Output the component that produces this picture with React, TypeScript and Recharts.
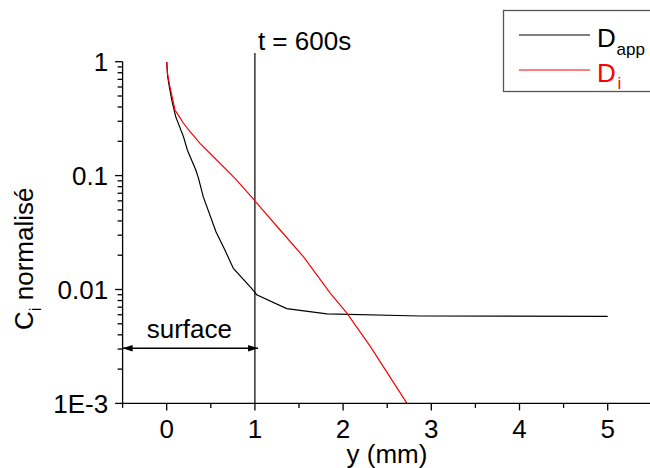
import React from "react";
import { LineChart, Line, XAxis, YAxis, ReferenceLine } from "recharts";

// D_app series (black)
const depthApp = [0, 0.01, 0.03, 0.06, 0.102, 0.19, 0.234, 0.33, 0.36, 0.415, 0.56, 0.66, 0.756, 0.965, 1.02, 1.36, 1.816, 2.875, 5];
const concApp = [1, 0.75, 0.6, 0.45, 0.329, 0.22, 0.168, 0.112, 0.095, 0.065, 0.032, 0.0222, 0.0153, 0.0102, 0.009, 0.0068, 0.0061, 0.00585, 0.00581];

// D_i series (red)
const depthI = [0, 0.01, 0.037, 0.094, 0.143, 0.19, 0.265, 0.378, 0.49, 0.775, 0.976, 1.286, 1.55, 1.854, 2.043, 2.31, 2.724];
const concI = [1, 0.78, 0.6, 0.377, 0.329, 0.288, 0.243, 0.192, 0.157, 0.0947, 0.063, 0.0333, 0.0194, 0.0093, 0.0062, 0.00315, 0.001];

const seriesNames = ["D", "D"];
const seriesSubs = ["app", "i"];
const seriesColors = ["#000000", "#ff0000"];

const xTicks = [-0.5, 0, 0.5, 1, 1.5, 2, 2.5, 3, 3.5, 4, 4.5, 5, 5.5];
const xTickLabels = ["", "0", "", "1", "", "2", "", "3", "", "4", "", "5", ""];

const yTicks = [
  0.001, 0.002, 0.003, 0.004, 0.005, 0.006, 0.007, 0.008, 0.009,
  0.01, 0.02, 0.03, 0.04, 0.05, 0.06, 0.07, 0.08, 0.09,
  0.1, 0.2, 0.3, 0.4, 0.5, 0.6, 0.7, 0.8, 0.9, 1,
];
const yMajor = [0.001, 0.01, 0.1, 1];
const yMajorLabels = ["1E-3", "0.01", "0.1", "1"];

const markerTime = 1;
const timeLabel = "t = 600s";
const surfaceSpan = [-0.5, 1.036];
const surfaceLevel = 0.00305;
const markerTop = 1.19;

const appData = depthApp.map((x, i) => ({ x, v: concApp[i] }));
const iData = depthI.map((x, i) => ({ x, v: concI[i] }));

const FONT = "Arial, 'Liberation Sans', sans-serif";

const near = (a: number, b: number) => Math.abs(a - b) < 1e-9 * Math.max(1, Math.abs(b));

const XTick = (props: any) => {
  const { x, y, payload } = props;
  const idx = xTicks.findIndex((t) => near(t, payload.value));
  const label = idx >= 0 ? xTickLabels[idx] : "";
  const major = label !== "";
  return (
    <g>
      <line x1={x} x2={x} y1={y} y2={y + (major ? 7 : 4.5)} stroke="#000" strokeWidth={1.3} />
      {major && (
        <text x={x} y={y + 25} dy="0.355em" textAnchor="middle" fontSize={26} fontFamily={FONT} fill="#000">
          {label}
        </text>
      )}
    </g>
  );
};

const YTick = (props: any) => {
  const { x, y, payload } = props;
  const idx = yMajor.findIndex((t) => near(t, payload.value));
  const major = idx >= 0;
  return (
    <g>
      <line x1={x - (major ? 7.5 : 5)} x2={x} y1={y} y2={y} stroke="#000" strokeWidth={1.3} />
      {major && (
        <text x={x - 14.5} y={y} dy="0.355em" textAnchor="end" fontSize={26} fontFamily={FONT} fill="#000">
          {yMajorLabels[idx]}
        </text>
      )}
    </g>
  );
};

const ArrowShape = (props: any) => {
  const { x1, y1, x2, y2 } = props;
  if (x1 == null) return null;
  const L = 10;
  const H = 3.2;
  return (
    <g>
      <line x1={x1} y1={y1} x2={x2} y2={y2} stroke="#000" strokeWidth={1.3} />
      <polygon points={`${x1},${y1} ${x1 + L},${y1 - H} ${x1 + L},${y1 + H}`} fill="#000" />
      <polygon points={`${x2},${y2} ${x2 - L},${y2 - H} ${x2 - L},${y2 + H}`} fill="#000" />
      <text x={(x1 + x2) / 2 - 1} y={y1 - 10} textAnchor="middle" fontSize={26} fontFamily={FONT} fill="#000">
        surface
      </text>
    </g>
  );
};

const TimeShape = (props: any) => {
  const { x1, y1, x2, y2 } = props;
  if (x1 == null) return null;
  const top = Math.min(y1, y2);
  return (
    <g>
      <line x1={x1} y1={y1} x2={x2} y2={y2} stroke="#000" strokeWidth={1.2} />
      <text x={x1 + 3} y={top - 3} fontSize={26} fontFamily={FONT} fill="#000">
        {timeLabel}
      </text>
    </g>
  );
};

export default function App() {
  return (
    <div style={{ position: "absolute", left: 0, top: 0, width: 650, height: 468, overflow: "hidden", background: "#fff" }}>
      <LineChart
        width={660}
        height={468}
        margin={{ top: 61.7, right: 8.2, left: 62.6, bottom: 34.6 }}
      >
        <XAxis
          type="number"
          dataKey="x"
          domain={[-0.5, 5.5]}
          ticks={xTicks}
          interval={0}
          allowDataOverflow
          height={30}
          tickSize={0}
          tickMargin={0}
          tickLine={false}
          axisLine={{ stroke: "#000", strokeWidth: 1.3 }}
          tick={<XTick />}
        />
        <YAxis
          type="number"
          dataKey="v"
          scale="log"
          domain={[0.001, 1]}
          ticks={yTicks}
          interval={0}
          allowDataOverflow
          width={60}
          tickSize={0}
          tickMargin={0}
          tickLine={false}
          axisLine={{ stroke: "#000", strokeWidth: 1.3 }}
          tick={<YTick />}
        />
        <ReferenceLine
          segment={[
            { x: markerTime, y: markerTop },
            { x: markerTime, y: 0.001 },
          ]}
          ifOverflow="visible"
          shape={<TimeShape />}
        />
        <ReferenceLine
          segment={[
            { x: surfaceSpan[0], y: surfaceLevel },
            { x: surfaceSpan[1], y: surfaceLevel },
          ]}
          ifOverflow="visible"
          shape={<ArrowShape />}
        />
        <Line
          data={appData}
          dataKey="v"
          type="linear"
          stroke={seriesColors[0]}
          strokeWidth={1.2}
          dot={false}
          isAnimationActive={false}
        />
        <Line
          data={iData}
          dataKey="v"
          type="linear"
          stroke={seriesColors[1]}
          strokeWidth={1.2}
          dot={false}
          isAnimationActive={false}
        />
      </LineChart>
      <svg
        width={650}
        height={468}
        style={{ position: "absolute", left: 0, top: 0, pointerEvents: "none" }}
      >
        <rect x={503.5} y={10.5} width={160} height={81} fill="none" stroke="#555" strokeWidth={1.3} />
        {seriesNames.map((n, i) => (
          <g key={i}>
            <line x1={519} x2={590} y1={35 + i * 35} y2={35 + i * 35} stroke={seriesColors[i]} strokeWidth={1.2} />
            <text x={597} y={46.7 + i * 35} fontSize={26} fontFamily={FONT} fill={seriesColors[i]}>
              {n}
              <tspan x={i === 0 ? 616.5 : 617.5} y={55 + i * 34} fontSize={17}>
                {seriesSubs[i]}
              </tspan>
            </text>
          </g>
        ))}
        <text
          transform="translate(33,330) rotate(-90)"
          x={0}
          y={0}
          fontSize={26}
          fontFamily={FONT}
          fill="#000"
        >
          C
          <tspan fontSize={17} dy={8}>i</tspan>
          <tspan dy={-8}> normalisé</tspan>
        </text>
        <text x={387} y={463} textAnchor="middle" fontSize={26} fontFamily={FONT} fill="#000">
          y (mm)
        </text>
      </svg>
    </div>
  );
}
